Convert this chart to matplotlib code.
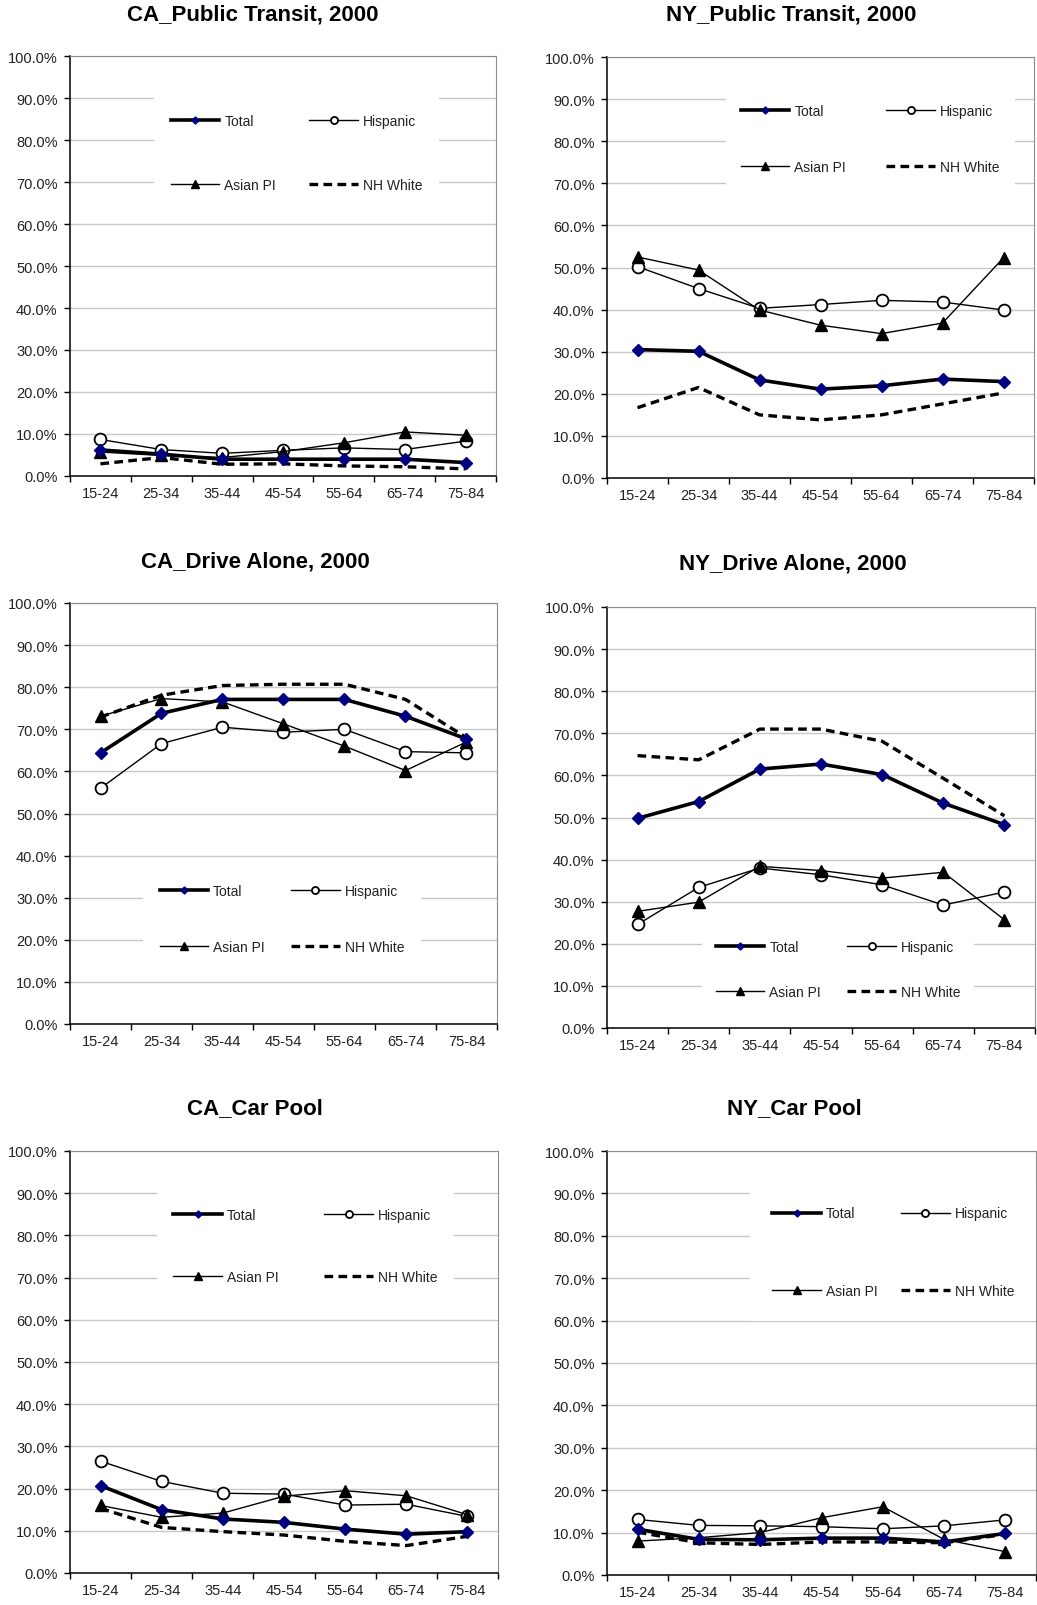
import numpy as np
import matplotlib
matplotlib.use('Agg')
import matplotlib.pyplot as plt
from matplotlib.ticker import FuncFormatter

plt.rcParams['font.family'] = ['Liberation Sans', 'DejaVu Sans']

ages = ['15-24', '25-34', '35-44', '45-54', '55-64', '65-74', '75-84']

# commute mode shares (%) by age group, 2000
ca_transit_total = [6.2, 5.2, 4.0, 4.0, 4.0, 4.0, 3.2]
ca_transit_hisp = [8.7, 6.3, 5.4, 6.1, 6.7, 6.3, 8.3]
ca_transit_asian = [5.7, 4.9, 4.4, 5.8, 7.9, 10.5, 9.7]
ca_transit_white = [2.9, 4.4, 2.8, 2.9, 2.4, 2.2, 1.7]

ny_transit_total = [30.5, 30.1, 23.3, 21.1, 21.9, 23.5, 22.9]
ny_transit_hisp = [50.2, 45.0, 40.3, 41.2, 42.2, 41.8, 39.9]
ny_transit_asian = [52.5, 49.4, 39.9, 36.3, 34.3, 36.8, 52.3]
ny_transit_white = [16.7, 21.5, 15.0, 13.8, 15.0, 17.6, 20.2]

ca_drive_total = [64.4, 73.8, 77.1, 77.1, 77.1, 73.1, 67.7]
ca_drive_hisp = [56.0, 66.6, 70.5, 69.3, 70.0, 64.7, 64.4]
ca_drive_asian = [73.1, 77.3, 76.5, 71.3, 66.0, 60.2, 67.0]
ca_drive_white = [72.9, 78.1, 80.4, 80.7, 80.7, 77.1, 68.0]

ny_drive_total = [49.8, 53.8, 61.5, 62.7, 60.2, 53.4, 48.3]
ny_drive_hisp = [24.6, 33.4, 38.0, 36.4, 34.0, 29.2, 32.3]
ny_drive_asian = [27.7, 29.9, 38.4, 37.4, 35.6, 37.0, 25.7]
ny_drive_white = [64.7, 63.7, 71.0, 71.0, 68.1, 59.3, 50.4]

ca_pool_total = [20.7, 15.0, 12.8, 12.0, 10.4, 9.2, 9.8]
ca_pool_hisp = [26.5, 21.7, 18.9, 18.7, 16.1, 16.3, 13.4]
ca_pool_asian = [16.0, 13.2, 14.2, 18.2, 19.5, 18.3, 13.8]
ca_pool_white = [15.3, 10.8, 9.8, 9.0, 7.5, 6.5, 8.7]

ny_pool_total = [10.8, 8.4, 8.3, 8.7, 8.7, 7.8, 9.8]
ny_pool_hisp = [13.1, 11.7, 11.6, 11.4, 10.9, 11.6, 13.0]
ny_pool_asian = [8.0, 8.8, 10.0, 13.5, 16.1, 8.4, 5.5]
ny_pool_white = [10.1, 7.6, 7.2, 7.8, 7.8, 7.6, 9.6]

W, H = 1037, 1606
fig = plt.figure(figsize=(W / 100, H / 100), dpi=100)


def panel(box, title, title_xy, total, hisp, asian, white,
          leg_xy, leg_space, col_space, leg_pad):
    x0, y0, x1, y1 = box
    ax = fig.add_axes([x0 / W, 1 - y1 / H, (x1 - x0) / W, (y1 - y0) / H])
    xs = np.arange(len(ages)) + 0.5

    l_tot, = ax.plot(xs, total, color='black', lw=2.6, marker='D', ms=6,
                     mfc='#000080', mec='#000080', label='Total', zorder=5)
    l_his, = ax.plot(xs, hisp, color='black', lw=1.0, marker='o', ms=8.5,
                     mfc='white', mec='black', mew=1.3, label='Hispanic', zorder=4)
    l_asi, = ax.plot(xs, asian, color='black', lw=1.0, marker='^', ms=8.5,
                     label='Asian PI', zorder=4)
    l_wht, = ax.plot(xs, white, color='black', lw=2.4, ls=(0, (2.6, 1.6)),
                     label='NH White', zorder=3)

    ax.set_xlim(0, len(ages))
    ax.set_ylim(0, 100)
    ax.set_yticks(np.arange(0, 101, 10))
    ax.yaxis.set_major_formatter(FuncFormatter(lambda v, _: f'{v:.1f}%'))
    ax.set_xticks(np.arange(len(ages) + 1))
    ax.set_xticklabels([])
    ax.set_xticks(xs, minor=True)
    ax.set_xticklabels(ages, minor=True)
    ax.tick_params(axis='x', which='major', length=4, width=1, direction='out')
    ax.tick_params(axis='x', which='minor', length=0, pad=7, labelsize=10.5,
                   labelcolor='#222222')
    ax.tick_params(axis='y', length=4, width=1, pad=5, labelsize=10.5,
                   labelcolor='#222222')

    ax.yaxis.grid(True, color='#c8c8c8', lw=1)
    ax.set_axisbelow(True)
    for side in ('top', 'right'):
        ax.spines[side].set_color('#8c8c8c')
    for side in ('left', 'bottom'):
        ax.spines[side].set_color('black')
        ax.spines[side].set_linewidth(1.1)

    leg = ax.legend([l_tot, l_asi, l_his, l_wht],
                    ['Total', 'Asian PI', 'Hispanic', 'NH White'],
                    ncol=2, loc='center', bbox_to_anchor=leg_xy,
                    fontsize=10, labelspacing=leg_space, columnspacing=col_space,
                    handlelength=3.5, handletextpad=0.35, markerscale=0.6,
                    frameon=True, fancybox=False, borderpad=leg_pad)
    leg.get_frame().set_facecolor('white')
    leg.get_frame().set_edgecolor('none')
    leg.get_frame().set_alpha(1)
    for t in leg.get_texts():
        t.set_color('#222222')

    fig.text(title_xy[0] / W, 1 - title_xy[1] / H, title, ha='center',
             va='center', fontsize=16, fontweight='bold')
    return ax


panel((70, 57, 496, 477), 'CA_Public Transit, 2000', (253, 15),
      ca_transit_total, ca_transit_hisp, ca_transit_asian, ca_transit_white,
      (0.532, 0.770), 3.6, 2.4, 1.2)
panel((607, 58, 1034, 479), 'NY_Public Transit, 2000', (791, 15),
      ny_transit_total, ny_transit_hisp, ny_transit_asian, ny_transit_white,
      (0.616, 0.806), 3.0, 2.9, 1.1)
panel((70, 604, 497, 1025), 'CA_Drive Alone, 2000', (255, 562),
      ca_drive_total, ca_drive_hisp, ca_drive_asian, ca_drive_white,
      (0.496, 0.249), 3.0, 1.9, 1.2)
panel((607, 608, 1035, 1029), 'NY_Drive Alone, 2000', (793, 564),
      ny_drive_total, ny_drive_hisp, ny_drive_asian, ny_drive_white,
      (0.540, 0.139), 2.2, 1.9, 1.0)
panel((70, 1152, 498, 1574), 'CA_Car Pool', (255, 1109),
      ca_pool_total, ca_pool_hisp, ca_pool_asian, ca_pool_white,
      (0.550, 0.775), 3.5, 3.3, 1.2)
panel((607, 1152, 1036, 1576), 'NY_Car Pool', (794, 1109),
      ny_pool_total, ny_pool_hisp, ny_pool_asian, ny_pool_white,
      (0.667, 0.761), 4.6, 1.7, 1.6)

fig.savefig('out.png', dpi=100, facecolor='white')
